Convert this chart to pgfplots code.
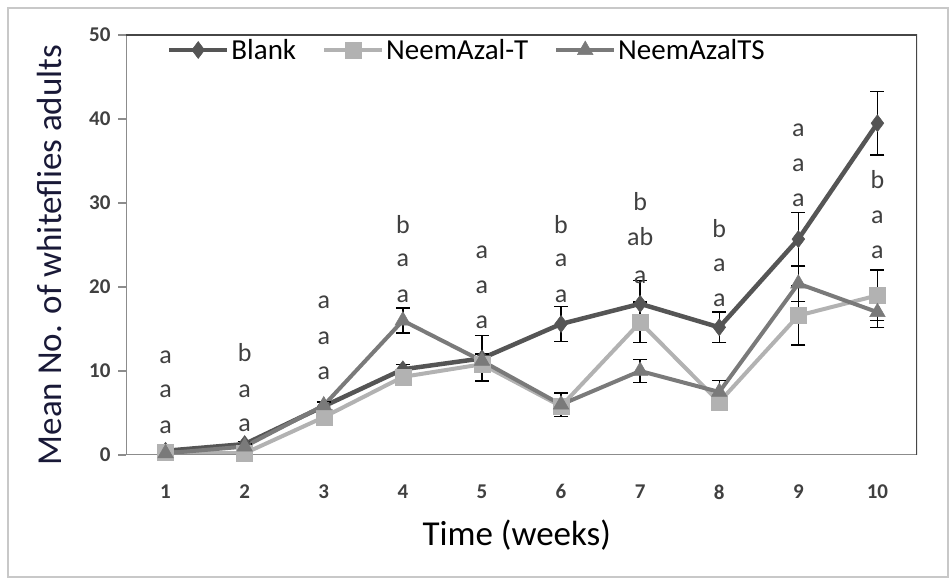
\documentclass[border=0pt]{standalone}
\usepackage{fontspec}
\setmainfont{Carlito}
\usepackage{pgfplots}
\pgfplotsset{compat=1.18}

\definecolor{cBlank}{RGB}{85,85,85}
\definecolor{cNT}{RGB}{178,178,178}
\definecolor{cNTS}{RGB}{122,122,122}
\definecolor{cTick}{RGB}{64,64,64}
\definecolor{cFrame}{RGB}{200,200,200}
\definecolor{cBox}{RGB}{70,70,70}
\definecolor{cAxis}{RGB}{140,140,140}
\definecolor{cLab}{RGB}{25,25,55}

\begin{document}
\begin{tikzpicture}
\useasboundingbox (0pt,0pt) rectangle (951pt,578pt);
\draw[cFrame, line width=1.5pt] (8pt,1pt) rectangle (948pt,570pt);
\begin{axis}[
  at={(126pt,123pt)}, anchor=south west,
  scale only axis, width=791pt, height=420pt,
  xmin=0.5, xmax=10.5, ymin=0, ymax=50,
  xtick={1,...,10}, ytick={0,10,...,50},
  axis line style={draw=none},
  x tick style={draw=none},
  y tick style={cAxis, line width=1.2pt},
  ytick pos=left, tick align=outside, major tick length=8pt,
  /pgf/number format/assume math mode=true,
  ticklabel style={font=\bfseries\fontsize{21}{21}\selectfont, text=cTick},
  yticklabel style={xshift=-4pt},
  xticklabel style={yshift=-18pt},
  xlabel={Time (weeks)},
  ylabel={Mean No. of whiteflies adults},
  xlabel style={font=\fontsize{35}{35}\selectfont, at={(rel axis cs:0.494,0)}, anchor=center, yshift=-80pt},
  ylabel style={font=\fontsize{35}{35}\selectfont, text=cLab, at={(rel axis cs:-0.097,0.476)}, anchor=center},
  legend style={at={(0.049,1.0)}, anchor=north west, draw=none, fill=none,
    font=\fontsize{29}{29}\selectfont, legend columns=3, inner sep=2pt,
    /tikz/every even column/.append style={column sep=24pt}},
  legend image code/.code={\draw[mark repeat=2,mark phase=2] plot coordinates {(0pt,0pt) (29pt,0pt) (58pt,0pt)};},
  error bars/y dir=both, error bars/y explicit,
  error bars/error bar style={black, line width=1.4pt},
  error bars/error mark options={rotate=90, mark size=7pt, line width=1.4pt, black},
]
% Blank
\addplot[cBlank, line width=4.5pt, mark=diamond*, mark size=8.5pt,
  mark options={solid, line width=0.5pt}]
  coordinates {
  (1,0.5) +- (0,0.3)
  (2,1.3) +- (0,0.3)
  (3,5.8) +- (0,0.5)
  (4,10.2) +- (0,0.6)
  (5,11.5) +- (0,2.7)
  (6,15.6) +- (0,2.1)
  (7,18.0) +- (0,2.8)
  (8,15.2) +- (0,1.8)
  (9,25.7) +- (0,3.2)
  (10,39.5) +- (0,3.8)
  };
\addlegendentry{Blank}
% NeemAzal-T
\addplot[cNT, line width=4pt, mark=square*, mark size=8pt,
  mark options={solid, line width=0.5pt}]
  coordinates {
  (1,0.3) +- (0,0.2)
  (2,0.2) +- (0,0.2)
  (3,4.5) +- (0,0.5)
  (4,9.3) +- (0,0.6)
  (5,10.8) +- (0,0.8)
  (6,5.8) +- (0,0.8)
  (7,15.8) +- (0,2.4)
  (8,6.3) +- (0,0.8)
  (9,16.6) +- (0,3.5)
  (10,19.0) +- (0,3.0)
  };
\addlegendentry{NeemAzal-T}
% NeemAzalTS
\addplot[cNTS, line width=4pt, mark=triangle*, mark size=9pt,
  mark options={solid, line width=0.5pt}]
  coordinates {
  (1,0.2) +- (0,0.2)
  (2,1.0) +- (0,0.3)
  (3,5.9) +- (0,0.5)
  (4,16.0) +- (0,1.5)
  (5,11.2) +- (0,0.8)
  (6,6.0) +- (0,1.4)
  (7,10.0) +- (0,1.4)
  (8,7.5) +- (0,1.4)
  (9,20.4) +- (0,2.1)
  (10,17.0) +- (0,1.8)
  };
\addlegendentry{NeemAzalTS}

% plot area outline
\draw[cAxis, line width=1.5pt] (rel axis cs:0,1) -- (rel axis cs:0,0) -- (rel axis cs:1,0);
\draw[cBox, line width=2pt] (rel axis cs:0,1) -- (rel axis cs:1,1) -- (rel axis cs:1,0);

% significance letters (top to bottom: Blank, NeemAzal-T, NeemAzalTS)
\begin{scope}[every node/.style={anchor=base, font=\fontsize{26}{26}\selectfont, text=cTick, inner sep=0pt}]
\node at (axis cs:1,10.9) {a}; \node at (axis cs:1,6.8) {a}; \node at (axis cs:1,2.6) {a};
\node at (axis cs:2,11.1) {b}; \node at (axis cs:2,6.9) {a}; \node at (axis cs:2,2.8) {a};
\node at (axis cs:3,17.4) {a}; \node at (axis cs:3,13.2) {a}; \node at (axis cs:3,9.0) {a};
\node at (axis cs:4,26.4) {b}; \node at (axis cs:4,22.4) {a}; \node at (axis cs:4,18.1) {a};
\node at (axis cs:5,23.4) {a}; \node at (axis cs:5,19.2) {a}; \node at (axis cs:5,15.0) {a};
\node at (axis cs:6,26.4) {b}; \node at (axis cs:6,22.4) {a}; \node at (axis cs:6,18.1) {a};
\node at (axis cs:7,29.1) {b}; \node at (axis cs:7,24.9) {ab}; \node at (axis cs:7,20.4) {a};
\node at (axis cs:8,25.9) {b}; \node at (axis cs:8,21.8) {a}; \node at (axis cs:8,17.7) {a};
\node at (axis cs:9,37.9) {a}; \node at (axis cs:9,33.7) {a}; \node at (axis cs:9,29.6) {a};
\node at (axis cs:10,31.7) {b}; \node at (axis cs:10,27.5) {a}; \node at (axis cs:10,23.4) {a};
\end{scope}
\end{axis}
\end{tikzpicture}
\end{document}
